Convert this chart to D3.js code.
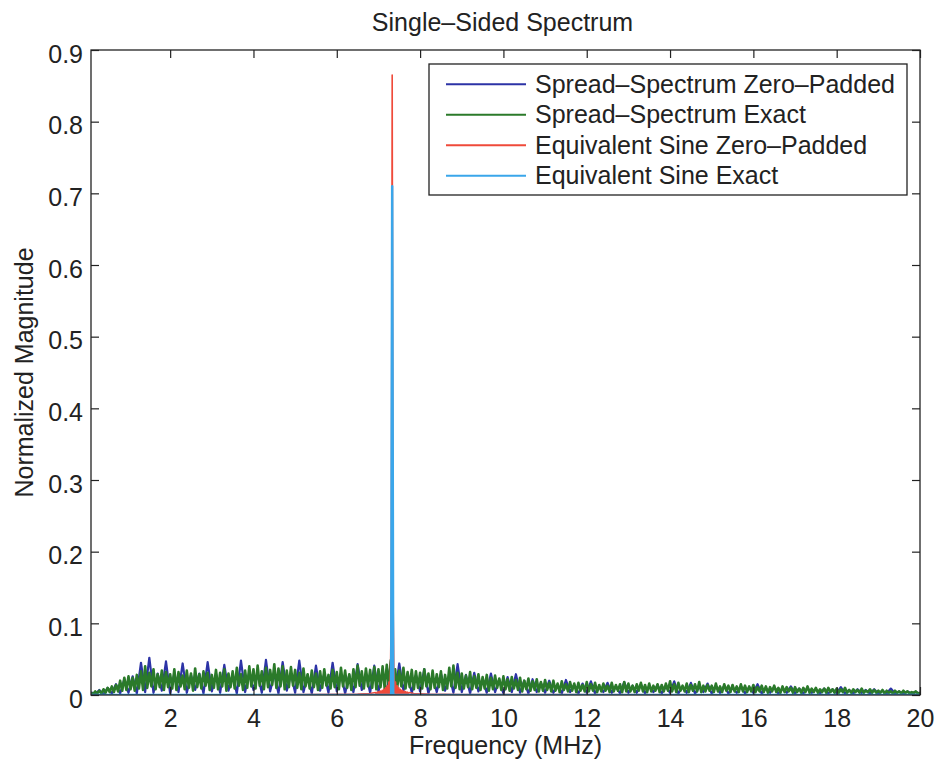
<!DOCTYPE html>
<html><head><meta charset="utf-8">
<script src="https://cdn.jsdelivr.net/npm/d3@7"></script>
<style>
body{margin:0;background:#fff}
svg{display:block}
text{font-family:"Liberation Sans",Arial,Helvetica,sans-serif;fill:#222}
</style>
</head><body>
<svg id="chart" width="940" height="765"></svg>
<script>
// ---------------- DATA ----------------
const titleText = "Single\u2013Sided Spectrum";
const xLabelText = "Frequency (MHz)";
const yLabelText = "Normalized Magnitude";
const xTicks = [2, 4, 6, 8, 10, 12, 14, 16, 18, 20];
const yTicks = [0, 0.1, 0.2, 0.3, 0.4, 0.5, 0.6, 0.7, 0.8, 0.9];
const yTickLabels = ["0", "0.1", "0.2", "0.3", "0.4", "0.5", "0.6", "0.7", "0.8", "0.9"];
const seriesNames = ["Spread\u2013Spectrum Zero\u2013Padded", "Spread\u2013Spectrum Exact",
                     "Equivalent Sine Zero\u2013Padded", "Equivalent Sine Exact"];
const seriesColors = ["#2c33a6", "#2b7a2a", "#ef4a3a", "#3aa6ea"];

// Spread-spectrum exact: bins from 0.10 MHz, every 0.05 MHz
const ssExactStart = 0.1, ssExactStep = 0.05;
const ssExact = [
 .003,.001,.005,.002,.006,.002,.008,.003,.010,.004,.012,.004,.014,.005,.020,.006,.024,.007,
 .026,.008,.024,.006,.028,.009,.033,.007,.040,.010,.031,.012,.036,.008,.029,.011,.034,.007,.032,.011,
 .029,.009,.036,.007,.032,.012,.027,.008,.034,.010,.030,.006,.037,.011,.029,.009,.033,.013,.031,.007,
 .028,.010,.035,.008,.031,.012,.036,.006,.030,.011,.033,.009,.038,.013,.029,.007,.034,.010,.040,.012,
 .036,.009,.041,.013,.033,.008,.038,.011,.035,.014,.043,.010,.037,.012,.040,.008,.034,.011,.039,.013,
 .035,.010,.031,.008,.037,.012,.029,.009,.034,.011,.030,.007,.033,.010,.036,.013,.028,.009,.035,.011,
 .032,.008,.038,.012,.034,.010,.029,.007,.036,.011,.041,.013,.033,.009,.037,.012,.035,.010,.039,.008,
 .036,.011,.040,.009,.042,.013,.049,.012,.036,.010,.034,.012,.038,.009,.032,.011,.035,.008,.033,.010,
 .031,.009,.036,.012,.030,.008,.034,.010,.029,.011,.033,.007,.028,.009,.038,.012,.041,.010,.031,.008,
 .030,.009,.027,.011,.032,.008,.026,.010,.029,.007,.025,.009,.028,.006,.024,.008,.027,.010,.023,.007,
 .026,.008,.022,.006,.025,.009,.021,.007,.024,.005,.020,.008,.023,.006,.019,.007,.022,.005,.018,.006,
 .021,.007,.017,.005,.020,.006,.016,.004,.019,.007,.015,.005,.018,.006,.016,.004,.017,.006,.014,.005,
 .018,.005,.015,.006,.017,.004,.014,.005,.016,.006,.013,.004,.017,.005,.014,.006,.015,.004,.018,.005,
 .016,.005,.013,.004,.015,.006,.017,.005,.014,.004,.016,.005,.013,.006,.015,.004,.014,.005,.016,.006,
 .019,.005,.015,.004,.017,.006,.013,.005,.016,.004,.014,.006,.015,.005,.018,.004,.013,.005,.014,.006,
 .013,.004,.016,.005,.012,.004,.015,.006,.013,.004,.014,.005,.012,.004,.015,.005,.013,.004,.012,.005,
 .014,.004,.011,.005,.013,.004,.012,.003,.011,.005,.013,.004,.010,.003,.012,.004,.011,.005,.010,.003,
 .011,.004,.009,.003,.010,.004,.012,.003,.009,.004,.010,.003,.008,.004,.009,.003,.010,.004,.008,.003,
 .009,.003,.008,.004,.010,.003,.007,.003,.008,.004,.007,.003,.009,.003,.006,.004,.008,.003,.007,.003,
 .006,.003,.007,.002,.006,.003,.005,.002,.006,.003,.005,.002,.006,.003,.005,.002,.004,.003,.005,.002,
 .003
];

// Spread-spectrum zero-padded: points from 0.1 MHz, every 0.1 MHz
const ssZpStart = 0.1, ssZpStep = 0.1;
const ssZeroPadded = [
 .004,.001,.007,.001,.010,.002,.015,.002,.022,.003,
 .026,.002,.045,.004,.052,.003,.030,.006,.047,.002,
 .030,.004,.044,.003,.028,.007,.030,.002,.046,.005,
 .030,.003,.042,.006,.028,.002,.048,.004,.032,.007,
 .030,.003,.049,.005,.030,.002,.046,.006,.030,.003,
 .048,.004,.028,.002,.041,.006,.030,.003,.045,.005,
 .030,.002,.028,.004,.043,.007,.030,.003,.041,.005,
 .030,.002,.048,.004,.044,.006,.030,.003,.028,.005,
 .036,.002,.026,.004,.030,.006,.028,.003,.043,.004,
 .028,.002,.031,.005,.022,.003,.030,.004,.022,.002,
 .025,.004,.029,.003,.020,.002,.022,.004,.017,.003,
 .020,.003,.014,.002,.021,.004,.014,.002,.016,.003,
 .019,.002,.012,.004,.017,.003,.012,.002,.018,.003,
 .013,.003,.015,.002,.012,.004,.014,.002,.012,.003,
 .019,.002,.012,.003,.017,.002,.011,.004,.016,.002,
 .012,.003,.013,.002,.010,.003,.012,.002,.011,.003,
 .015,.002,.010,.003,.011,.002,.009,.003,.012,.002,
 .009,.002,.010,.003,.008,.002,.009,.002,.008,.003,
 .011,.002,.007,.002,.008,.003,.007,.002,.008,.002,
 .006,.002,.009,.002,.005,.002,.005,.002,.004,.002
];

// Equivalent sine, zero-padded
const sineZpFreq = [0.1, 3, 5, 6, 6.5, 6.8, 6.93, 6.95, 6.97, 6.99, 7.01, 7.03, 7.05, 7.07, 7.09, 7.11, 7.13,
  7.15, 7.17, 7.19, 7.21, 7.23, 7.25, 7.27, 7.29, 7.31, 7.33, 7.35, 7.37, 7.39, 7.41, 7.43, 7.45, 7.47,
  7.49, 7.51, 7.53, 7.55, 7.57, 7.59, 7.61, 7.63, 7.65, 7.67, 7.69, 7.71, 7.73, 7.85, 8.2, 9, 11, 15, 20];
const sineZpMag = [.0002, .0003, .0005, .0009, .0013, .002, .0035, .0003, .004, .0003, .0048, .0003, .0055, .0003, .0065, .0003, .008,
  .0003, .010, .0004, .013, .0004, .018, .0005, .034, .14, .865, .14, .034, .0005, .018, .0004, .013, .0004,
  .010, .0003, .008, .0003, .0065, .0003, .0055, .0003, .0048, .0003, .004, .0003, .0035, .002, .0013, .0008, .0005, .0003, .0002];

// Equivalent sine, exact
const sineExFreq = [0.1, 5, 7.28, 7.3056, 7.33, 7.3544, 7.38, 10, 20];
const sineExMag  = [0, 0, .0005, .001, .71, .001, .0005, 0, 0];

// ---------------- CHART ----------------
const svg = d3.select("#chart");
const W = 940, H = 765;
const m = {left: 91, right: 20, top: 50, bottom: 70};
const x = d3.scaleLinear().domain([0.1, 20]).range([m.left, W - m.right]);
const y = d3.scaleLinear().domain([0, 0.9]).range([H - m.bottom, m.top]);

const mk = (arr, start, step) => arr.map((v, i) => [start + i * step, v]);
const series = [
  mk(ssZeroPadded, ssZpStart, ssZpStep),
  mk(ssExact, ssExactStart, ssExactStep),
  sineZpFreq.map((f, i) => [f, sineZpMag[i]]),
  sineExFreq.map((f, i) => [f, sineExMag[i]])
];
const widths = [2.2, 2.6, 1.6, 2.5];

svg.append("rect").attr("width", W).attr("height", H).attr("fill", "#fff");

svg.append("clipPath").attr("id", "clip").append("rect")
  .attr("x", m.left).attr("y", m.top)
  .attr("width", W - m.left - m.right).attr("height", H - m.top - m.bottom);

const line = d3.line().x(d => x(d[0])).y(d => y(d[1]));
const g = svg.append("g").attr("clip-path", "url(#clip)");
series.forEach((s, i) => {
  g.append("path").datum(s).attr("d", line)
    .attr("fill", "none").attr("stroke", seriesColors[i])
    .attr("stroke-width", widths[i]).attr("stroke-linejoin", "round");
});

// Axes (ticks inward, mirrored)
const axisColor = "#222";
const xb = svg.append("g").attr("transform", `translate(0,${y(0)})`)
  .call(d3.axisBottom(x).tickValues(xTicks).tickFormat(d3.format("d")).tickSize(-8).tickPadding(14));
const xt = svg.append("g").attr("transform", `translate(0,${y(0.9)})`)
  .call(d3.axisTop(x).tickValues(xTicks).tickFormat("").tickSize(-8));
const yl = svg.append("g").attr("transform", `translate(${x(0.1)},0)`)
  .call(d3.axisLeft(y).tickValues(yTicks).tickFormat((d, i) => yTickLabels[i]).tickSize(-8).tickPadding(8));
const yr = svg.append("g").attr("transform", `translate(${x(20)},0)`)
  .call(d3.axisRight(y).tickValues(yTicks).tickFormat("").tickSize(-8));
[xb, xt, yl, yr].forEach(a => {
  a.select(".domain").remove();
  a.selectAll("line").attr("stroke", axisColor).attr("stroke-width", 1.2);
  a.selectAll("text").attr("font-size", 25).attr("font-family", "Liberation Sans, Arial, sans-serif").attr("fill", "#222");
});
yl.selectAll("text").attr("dy", "0.48em");

svg.append("rect").attr("x", x(0.1)).attr("y", y(0.9))
  .attr("width", x(20) - x(0.1)).attr("height", y(0) - y(0.9))
  .attr("fill", "none").attr("stroke", axisColor).attr("stroke-width", 1.3);

// Title and labels
svg.append("text").attr("x", (x(0.1) + x(20)) / 2 - 3).attr("y", 31)
  .attr("text-anchor", "middle").attr("font-size", 25).text(titleText);
svg.append("text").attr("x", (x(0.1) + x(20)) / 2).attr("y", 754)
  .attr("text-anchor", "middle").attr("font-size", 25).text(xLabelText);
svg.append("text").attr("transform", `translate(33,${(y(0) + y(0.9)) / 2}) rotate(-90)`)
  .attr("text-anchor", "middle").attr("font-size", 25).text(yLabelText);

// Legend
const lg = svg.append("g");
lg.append("rect").attr("x", 429).attr("y", 64).attr("width", 478).attr("height", 131)
  .attr("fill", "#fff").attr("stroke", axisColor).attr("stroke-width", 1.3);
seriesNames.forEach((name, i) => {
  const cy = 84.3 + i * 30.5;
  lg.append("line").attr("x1", 446).attr("x2", 526).attr("y1", cy).attr("y2", cy)
    .attr("stroke", seriesColors[i]).attr("stroke-width", 2);
  lg.append("text").attr("x", 535).attr("y", cy + 8.5).attr("font-size", 25).text(name);
});
</script>
</body></html>
